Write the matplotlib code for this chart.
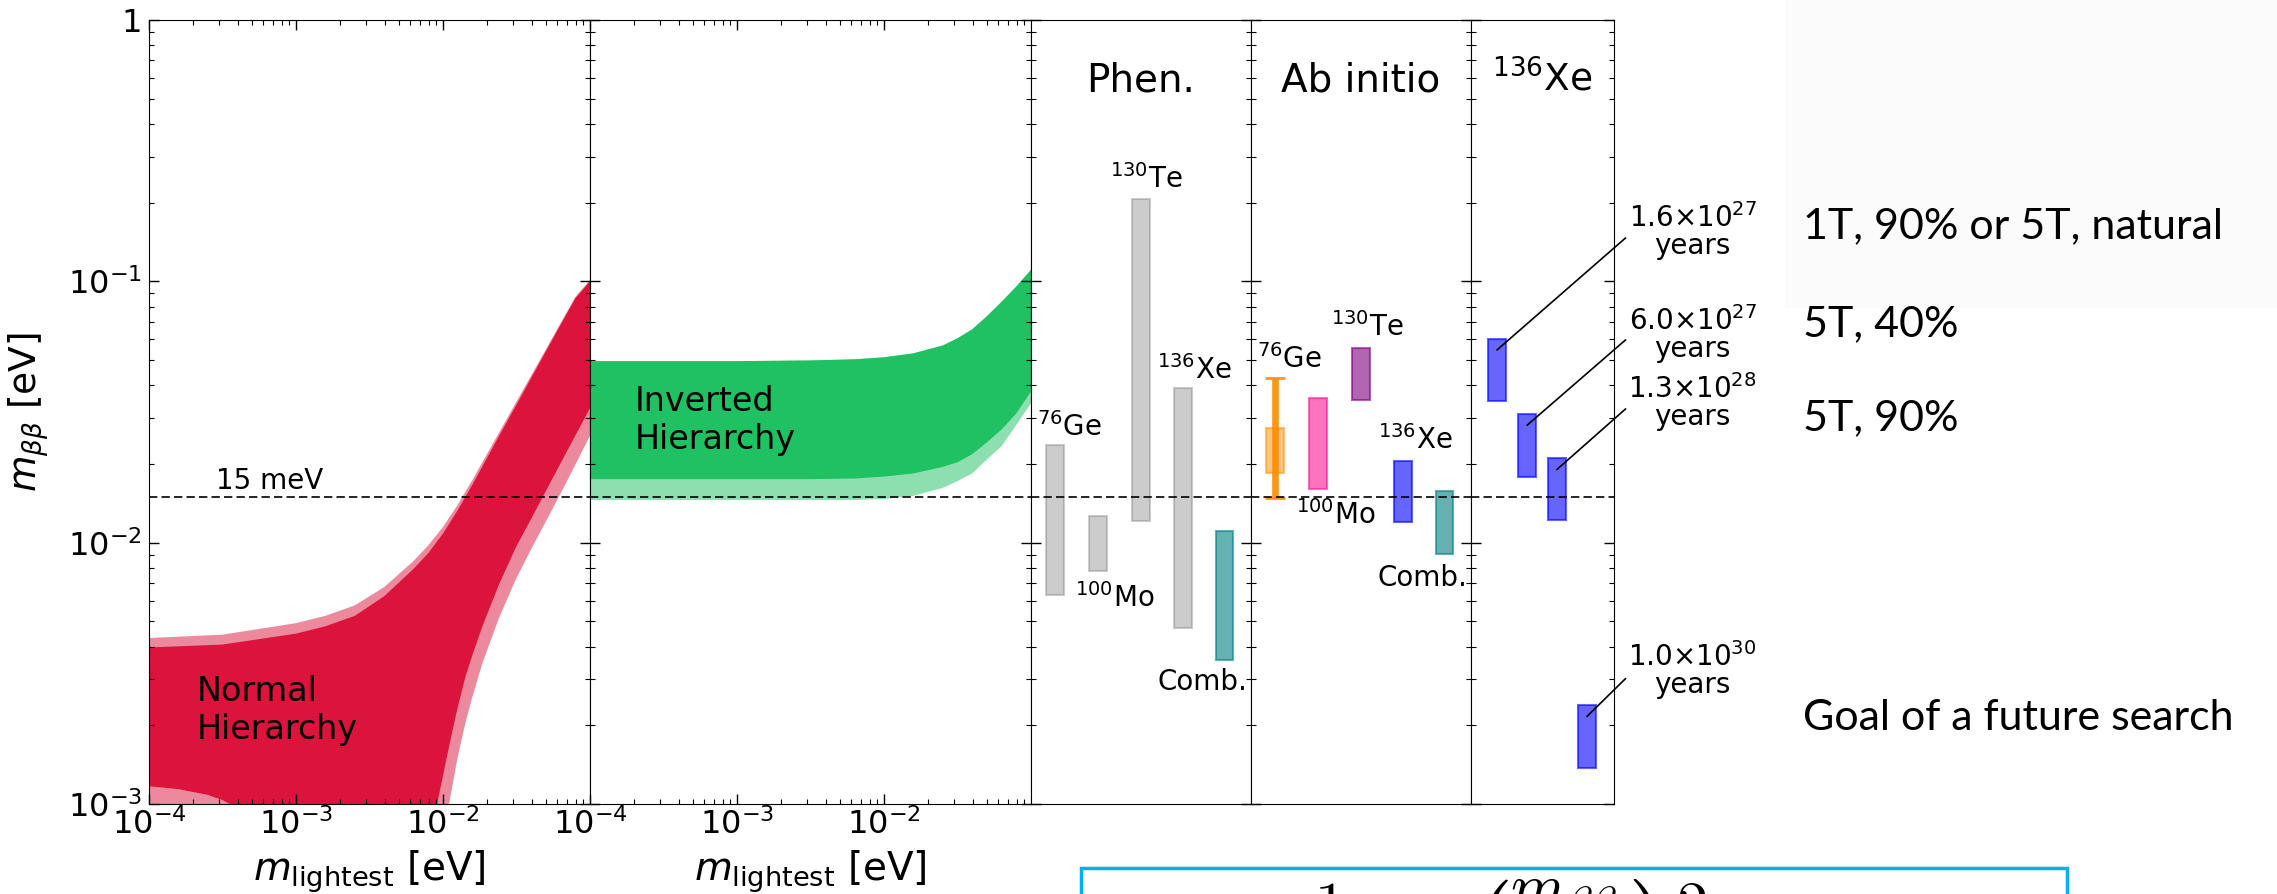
import numpy as np
import matplotlib.pyplot as plt
from matplotlib.patches import Rectangle
from matplotlib.ticker import LogLocator, NullFormatter, FixedLocator, FixedFormatter, NullLocator

W, H = 2277, 894
AX_TOP, AX_BOT = 20, 804

# ---- normal hierarchy band, read in log10 units (x = m_lightest, y = m_bb, eV) ----
nh_up_lx = [-4.0, -3.5, -3.0, -2.8, -2.6, -2.4, -2.2, -2.1, -2.0, -1.9, -1.8, -1.7, -1.6,
            -1.5, -1.4, -1.3, -1.2, -1.1, -1.0]
nh_up_outer_ly = [-2.365, -2.352, -2.308, -2.28, -2.24, -2.17, -2.07, -2.01, -1.94, -1.855,
                  -1.76, -1.66, -1.56, -1.46, -1.36, -1.26, -1.16, -1.06, -0.995]
nh_up_inner_ly = [-2.401, -2.39, -2.348, -2.32, -2.28, -2.205, -2.1, -2.04, -1.965, -1.876,
                  -1.778, -1.675, -1.573, -1.472, -1.37, -1.268, -1.166, -1.065, -1.0]
nh_lo_inner_lx = [-4.0, -3.8, -3.6, -3.5, -3.45, -3.4, -2.07, -2.04, -1.959, -1.9, -1.846,
                  -1.8, -1.732, -1.619, -1.506, -1.392, -1.279, -1.166, -1.0]
nh_lo_inner_ly = [-2.932, -2.943, -2.965, -2.985, -3.0, -3.3, -3.3, -3.0, -2.78, -2.63, -2.51,
                  -2.43, -2.32, -2.16, -2.02, -1.90, -1.78, -1.66, -1.485]
nh_lo_outer_lx = [-4.0, -1.98, -1.959, -1.9, -1.846, -1.8, -1.732, -1.619, -1.506, -1.392,
                  -1.279, -1.166, -1.0]
nh_lo_outer_ly = [-3.3, -3.3, -3.0, -2.82, -2.686, -2.59, -2.461, -2.288, -2.142, -2.016,
                  -1.896, -1.775, -1.591]

# ---- inverted hierarchy band (eV) ----
ih_x = [1e-4, 1e-3, 3.16e-3, 6.3e-3, 1e-2, 1.58e-2, 2.51e-2, 3.16e-2, 3.98e-2, 5.01e-2,
        6.31e-2, 7.94e-2, 1e-1]
ih_up = [0.0495, 0.0495, 0.0498, 0.0503, 0.0512, 0.0530, 0.0568, 0.0605, 0.0655, 0.0735,
         0.0835, 0.0955, 0.1107]
ih_lo_inner = [0.0175, 0.0175, 0.0175, 0.0176, 0.0179, 0.0184, 0.0195, 0.0203, 0.0218,
               0.0242, 0.0271, 0.0312, 0.0379]
ih_lo_outer = [0.01456, 0.01456, 0.01456, 0.01456, 0.0147, 0.0151, 0.0162, 0.0172, 0.0184,
               0.0208, 0.0234, 0.0282, 0.0341]

LIMIT = 0.015

# ---- phenomenological NME ranges ----
phen_names = [r"$^{76}$Ge", r"$^{100}$Mo", r"$^{130}$Te", r"$^{136}$Xe", "Comb."]
phen_lo = [6.32e-3, 7.8e-3, 0.0121, 4.72e-3, 3.56e-3]
phen_hi = [0.0237, 0.01265, 0.2065, 0.0391, 0.0111]
phen_colors = ["gray", "gray", "gray", "gray", "teal"]
phen_alpha = [0.4, 0.4, 0.4, 0.4, 0.6]
phen_lab_x = [0.027, 0.202, 0.359, 0.573, 0.573]
phen_lab_y = [0.0256, 5.68e-3, 0.2275, 0.0423, 2.73e-3]

# ---- ab initio NME ranges ----
ab_names = [r"$^{76}$Ge", r"$^{100}$Mo", r"$^{130}$Te", r"$^{136}$Xe", "Comb."]
ab_lo = [0.0185, 0.0161, 0.0352, 0.0120, 9.04e-3]
ab_hi = [0.0275, 0.0358, 0.0557, 0.0206, 0.01578]
ab_colors = ["darkorange", "deeppink", "purple", "blue", "teal"]
ab_lab_x = [0.027, 0.205, 0.364, 0.575, 0.575]
ab_lab_y = [0.0467, 0.01175, 0.0618, 0.02285, 6.82e-3]
ge_err = [0.01483, 0.0427]

# ---- 136Xe sensitivities ----
xe_lo = [0.0348, 0.0179, 0.01222, 1.37e-3]
xe_hi = [0.0603, 0.0311, 0.0210, 2.39e-3]
xe_labels = ["1.6×10$^{27}$\nyears", "6.0×10$^{27}$\nyears",
             "1.3×10$^{28}$\nyears", "1.0×10$^{30}$\nyears"]
xe_text_y = [0.1545, 0.0624, 0.0343, 3.23e-3]
xe_line_end = [0.1466, 0.0597, 0.0325, 3.02e-3]

side_notes = ["1T, 90% or 5T, natural", "5T, 40%", "5T, 90%", "Goal of a future search"]
side_base = [238, 336, 430, 730]

ytick_vals = [1e-3, 1e-2, 1e-1, 1]
ytick_labels = [r"$10^{-3}$", r"$10^{-2}$", r"$10^{-1}$", "1"]
xtick_vals = [1e-4, 1e-3, 1e-2]
xtick_labels = [r"$10^{-4}$", r"$10^{-3}$", r"$10^{-2}$"]

CRIMSON = "#dc143c"
GREEN = "#1fc162"
FORMULA = r"$\frac{1}{T_{1/2}}\!\propto\!\left(\frac{m_{\beta\beta}}{m_e}\right)^2$"

fig = plt.figure(figsize=(W / 100, H / 100), dpi=100)

# faint slide background behind first note
fig.patches.append(Rectangle((1785 / W, 1 - 308 / H), 1, 1, transform=fig.transFigure,
                             facecolor="#fbfbfb", edgecolor="none", zorder=-5))


def make_axes(x0, x1):
    ax = fig.add_axes([x0 / W, 1 - AX_BOT / H, (x1 - x0) / W, (AX_BOT - AX_TOP) / H])
    ax.set_yscale("log")
    ax.set_ylim(1e-3, 1)
    ax.yaxis.set_major_locator(FixedLocator(ytick_vals))
    ax.yaxis.set_minor_locator(LogLocator(base=10, subs=np.arange(2, 10)))
    ax.yaxis.set_minor_formatter(NullFormatter())
    ax.tick_params(which="both", direction="in", left=True, right=True, labelleft=False)
    ax.tick_params(which="major", length=7, width=1)
    ax.tick_params(which="minor", length=3.5, width=0.8)
    ax.axhline(LIMIT, color="black", ls=(0, (5, 2.5)), lw=1.2, zorder=5)
    return ax


ax_nh = make_axes(149, 590)
ax_ih = make_axes(590, 1031)
ax_ph = make_axes(1031, 1251)
ax_ab = make_axes(1251, 1471)
ax_xe = make_axes(1471, 1614)

for ax in (ax_nh, ax_ih):
    ax.set_xscale("log")
    ax.set_xlim(1e-4, 1e-1)
    ax.xaxis.set_major_locator(FixedLocator(xtick_vals))
    ax.xaxis.set_major_formatter(FixedFormatter(xtick_labels))
    ax.xaxis.set_minor_locator(LogLocator(base=10, subs=np.arange(2, 10)))
    ax.xaxis.set_minor_formatter(NullFormatter())
    ax.tick_params(axis="x", which="both", top=True, labelsize=23, pad=3)
    ax.set_xlabel(r"$m_{\mathrm{lightest}}$ [eV]", fontsize=28, labelpad=5)

for ax in (ax_ph, ax_ab, ax_xe):
    ax.set_xlim(0, 1)
    ax.xaxis.set_major_locator(NullLocator())

ax_nh.yaxis.set_major_formatter(FixedFormatter(ytick_labels))
ax_nh.tick_params(axis="y", labelleft=True, labelsize=23, pad=5)
ax_nh.set_ylabel(r"$m_{\beta\beta}$ [eV]", fontsize=27)
ax_nh.yaxis.set_label_coords(-0.222, 0.5)

# normal hierarchy
ax_nh.fill(10 ** np.concatenate([nh_up_lx, nh_lo_outer_lx[::-1]]),
           10 ** np.concatenate([nh_up_outer_ly, nh_lo_outer_ly[::-1]]),
           color=CRIMSON, alpha=0.5, lw=0)
ax_nh.fill(10 ** np.concatenate([nh_up_lx, nh_lo_inner_lx[::-1]]),
           10 ** np.concatenate([nh_up_inner_ly, nh_lo_inner_ly[::-1]]),
           color=CRIMSON, lw=0)
ax_nh.text(2.1e-4, 3.12e-3, "Normal\nHierarchy", fontsize=24, va="top", ha="left")
ax_nh.text(2.86e-4, 0.01606, "15 meV", fontsize=20, va="baseline", ha="left")

# inverted hierarchy
ax_ih.fill(np.concatenate([ih_x, ih_x[::-1]]),
           np.concatenate([ih_up, ih_lo_outer[::-1]]),
           color=GREEN, alpha=0.5, lw=0)
ax_ih.fill(np.concatenate([ih_x, ih_x[::-1]]),
           np.concatenate([ih_up, ih_lo_inner[::-1]]),
           color=GREEN, lw=0)
ax_ih.text(2.02e-4, 0.0401, "Inverted\nHierarchy", fontsize=24, va="top", ha="left")

# phenomenological panel
centers5 = [0.11, 0.305, 0.5, 0.69, 0.88]
for c, lo, hi, col, a in zip(centers5, phen_lo, phen_hi, phen_colors, phen_alpha):
    ax_ph.bar(c, hi - lo, bottom=lo, width=0.08, color=col, edgecolor=col, lw=1.5, alpha=a)
for name, lx, ly in zip(phen_names, phen_lab_x, phen_lab_y):
    ax_ph.text(lx, ly, name, transform=ax_ph.get_yaxis_transform(), fontsize=20,
               va="baseline", ha="left")
ax_ph.text(0.5, 0.909, "Phen.", transform=ax_ph.transAxes, fontsize=28, ha="center", va="baseline")

# ab initio panel
ge_c = centers5[0]
ax_ab.errorbar([ge_c], [ge_err[0]], yerr=[[0], [ge_err[1] - ge_err[0]]], fmt="none",
               ecolor="darkorange", elinewidth=4.8, capsize=7.5, capthick=2, alpha=0.9)
for i, (c, lo, hi, col) in enumerate(zip(centers5, ab_lo, ab_hi, ab_colors)):
    ax_ab.bar(c, hi - lo, bottom=lo, width=0.08, color=col, edgecolor=col, lw=1.5,
              alpha=0.5 if i == 0 else 0.6, zorder=3)
for name, lx, ly in zip(ab_names, ab_lab_x, ab_lab_y):
    ax_ab.text(lx, ly, name, transform=ax_ab.get_yaxis_transform(), fontsize=20,
               va="baseline", ha="left")
ax_ab.text(0.5, 0.909, "Ab initio", transform=ax_ab.transAxes, fontsize=28, ha="center", va="baseline")

# 136Xe panel
centers4 = [0.182, 0.393, 0.601, 0.811]
for c, lo, hi, lab, ty, ly in zip(centers4, xe_lo, xe_hi, xe_labels, xe_text_y, xe_line_end):
    ax_xe.bar(c, hi - lo, bottom=lo, width=0.122, color="blue", edgecolor="blue", lw=1.5, alpha=0.6)
    start = 10 ** (np.log10(hi) - 0.18 * (np.log10(hi) - np.log10(lo)))
    ax_xe.annotate("", xy=(c, start), xycoords=("axes fraction", "data"),
                   xytext=(1.081, ly), textcoords=("axes fraction", "data"),
                   arrowprops=dict(arrowstyle="-", color="black", lw=1.2, shrinkA=0, shrinkB=0),
                   annotation_clip=False)
    ax_xe.text(1.55, ty, lab, transform=ax_xe.get_yaxis_transform(), fontsize=20,
               ha="center", va="center", multialignment="center", linespacing=0.95,
               clip_on=False)
ax_xe.text(0.5, 0.909, r"$^{136}$Xe", transform=ax_xe.transAxes, fontsize=27, ha="center", va="baseline")

# slide notes
for note, yb in zip(side_notes, side_base):
    fig.text(1803 / W, 1 - yb / H, note, fontsize=31, family="Lato", va="baseline", ha="left")

# formula box at the bottom (cut by slide edge)
fig.patches.append(Rectangle((1081 / W, -0.2), (2067 - 1081) / W, 0.2 + 1 - 868 / H,
                             transform=fig.transFigure, facecolor="white",
                             edgecolor="#00b0f0", lw=2.5))
fig.text(1277 / W, 1 - 877 / H, FORMULA, fontsize=64, math_fontfamily="cm", va="top", ha="left")

fig.savefig("out.png", dpi=100)
